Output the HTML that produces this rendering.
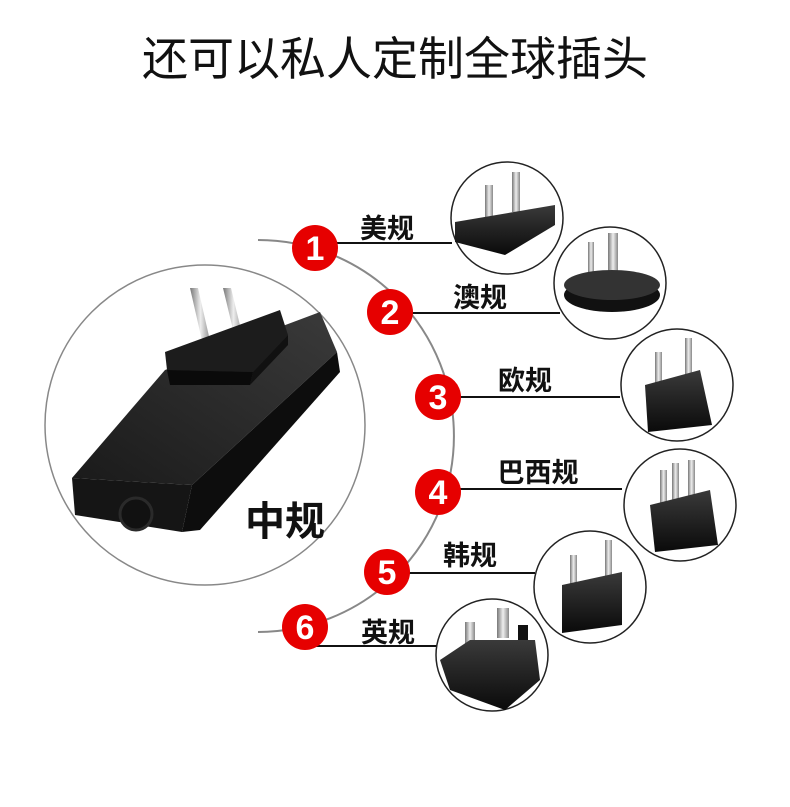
<!DOCTYPE html>
<html><head><meta charset="utf-8"><style>
body{margin:0;background:#fff;}
svg{display:block}
text{font-family:"Liberation Sans","Noto Sans CJK SC",sans-serif;}
</style></head><body>
<svg width="790" height="807" viewBox="0 0 790 807" xmlns="http://www.w3.org/2000/svg">
<defs>
<linearGradient id="pin" x1="0" x2="1"><stop offset="0" stop-color="#777"/><stop offset="0.5" stop-color="#eee"/><stop offset="1" stop-color="#888"/></linearGradient>
<linearGradient id="blk" x1="0" y1="0" x2="0" y2="1"><stop offset="0" stop-color="#3a3a3a"/><stop offset="1" stop-color="#0a0a0a"/></linearGradient>
<linearGradient id="top" x1="0" y1="1" x2="1" y2="0"><stop offset="0" stop-color="#1a1a1a"/><stop offset="1" stop-color="#3a3a3a"/></linearGradient>
</defs>
<text x="395" y="75" font-size="46" text-anchor="middle" fill="#111">还可以私人定制全球插头</text>

<circle cx="205" cy="425" r="160" fill="#fff" stroke="#888" stroke-width="1.5"/>
<!-- main adapter -->
<g>
<polygon points="72,478 165,370 320,312 337,352 192,485" fill="url(#top)"/>
<polygon points="72,478 192,485 182,532 75,515" fill="#151515"/>
<polygon points="192,485 337,352 340,372 200,530 182,532" fill="#0d0d0d"/>
<ellipse cx="136" cy="514" rx="16" ry="16" fill="#111" stroke="#2a2a2a" stroke-width="3"/>
<polygon points="190,288 198,288 211,345 203,345" fill="url(#pin)"/>
<polygon points="223,288 231,288 244,342 236,342" fill="url(#pin)"/>
<polygon points="165,352 280,310 288,335 253,372 167,370" fill="#1c1c1c"/>
<polygon points="167,370 253,372 250,385 170,385" fill="#0a0a0a"/>
<polygon points="253,372 288,335 288,345 250,385" fill="#111"/>
</g>
<text x="285" y="535" font-size="40" font-weight="bold" text-anchor="middle" fill="#111">中规</text>

<path d="M258,240 A196,196 0 0 1 258,632" fill="none" stroke="#888" stroke-width="2"/>

<g stroke="#111" stroke-width="2">
<line x1="315" y1="243" x2="452" y2="243"/>
<line x1="390" y1="313" x2="560" y2="313"/>
<line x1="438" y1="397" x2="620" y2="397"/>
<line x1="438" y1="489" x2="622" y2="489"/>
<line x1="387" y1="573" x2="535" y2="573"/>
<line x1="305" y1="646" x2="437" y2="646"/>
</g>

<g fill="#fff" stroke="#222" stroke-width="1.5">
<circle cx="507" cy="218" r="56"/>
<circle cx="610" cy="283" r="56"/>
<circle cx="677" cy="385" r="56"/>
<circle cx="680" cy="505" r="56"/>
<circle cx="590" cy="587" r="56"/>
<circle cx="492" cy="655" r="56"/>
</g>
<rect x="485" y="185" width="8" height="35" fill="url(#pin)"/>
<rect x="512" y="172" width="8" height="40" fill="url(#pin)"/>
<polygon points="455,222 555,205 555,225 505,255 455,242" fill="url(#blk)"/>
<rect x="588" y="242" width="6" height="35" fill="url(#pin)"/>
<rect x="608" y="233" width="10" height="40" fill="url(#pin)"/>
<ellipse cx="612" cy="295" rx="48" ry="17" fill="#111"/>
<ellipse cx="612" cy="285" rx="48" ry="15" fill="#333"/>
<rect x="655" y="352" width="7" height="40" fill="url(#pin)"/>
<rect x="685" y="338" width="7" height="40" fill="url(#pin)"/>
<polygon points="645,385 700,370 712,425 648,432" fill="url(#blk)"/>
<rect x="660" y="470" width="7" height="40" fill="url(#pin)"/>
<rect x="672" y="463" width="7" height="45" fill="url(#pin)"/>
<rect x="688" y="460" width="7" height="40" fill="url(#pin)"/>
<polygon points="650,505 710,490 718,545 655,552" fill="url(#blk)"/>
<rect x="570" y="555" width="7" height="40" fill="url(#pin)"/>
<rect x="605" y="540" width="7" height="40" fill="url(#pin)"/>
<polygon points="562,585 622,572 622,625 562,633" fill="url(#blk)"/>
<rect x="465" y="622" width="10" height="28" fill="url(#pin)"/>
<rect x="497" y="608" width="12" height="30" fill="url(#pin)"/>
<rect x="518" y="625" width="10" height="20" fill="#111"/>
<polygon points="440,660 470,640 535,640 540,680 505,710 450,690" fill="url(#blk)"/>

<g font-size="34" font-weight="bold" fill="#fff" text-anchor="middle">
<circle cx="315" cy="248" r="23" fill="#e60000"/><text x="315" y="260">1</text>
<circle cx="390" cy="312" r="23" fill="#e60000"/><text x="390" y="324">2</text>
<circle cx="438" cy="397" r="23" fill="#e60000"/><text x="438" y="409">3</text>
<circle cx="438" cy="492" r="23" fill="#e60000"/><text x="438" y="504">4</text>
<circle cx="387" cy="572" r="23" fill="#e60000"/><text x="387" y="584">5</text>
<circle cx="305" cy="627" r="23" fill="#e60000"/><text x="305" y="639">6</text>
</g>

<g font-size="27" font-weight="bold" fill="#111" text-anchor="middle">
<text x="387" y="238">美规</text>
<text x="480" y="307">澳规</text>
<text x="525" y="390">欧规</text>
<text x="538" y="482">巴西规</text>
<text x="470" y="565">韩规</text>
<text x="388" y="642">英规</text>
</g>
</svg>
</body></html>
